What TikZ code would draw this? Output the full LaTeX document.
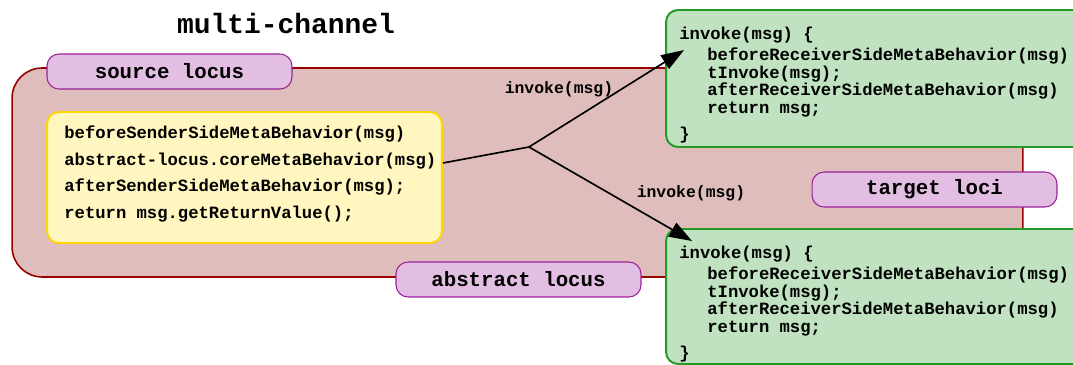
\documentclass[tikz,border=0pt]{standalone}
\usepackage{fontspec}
\setmonofont{Liberation Mono}
\definecolor{lcred}{RGB}{153,0,0}
\definecolor{lcredfill}{RGB}{224,189,189}
\definecolor{lctag}{RGB}{153,34,153}
\definecolor{lctagfill}{RGB}{226,190,226}
\definecolor{lcyellow}{RGB}{255,214,0}
\definecolor{lcyellowfill}{RGB}{255,246,192}
\definecolor{lcgreen}{RGB}{34,153,34}
\definecolor{lcgreenfill}{RGB}{192,226,192}
\usetikzlibrary{arrows.meta,positioning}

\begin{document}
\begin{tikzpicture}[x=0.02cm, y=-0.02cm,
  locusbox/.style={draw=lcred, line width=0.9pt, fill=lcredfill, rounded corners=0.6cm,
    minimum width=20.22cm, minimum height=4.18cm, inner sep=0pt},
  tagbox/.style={draw=lctag, line width=0.6pt, fill=lctagfill, rounded corners=0.24cm,
    minimum width=4.9cm, minimum height=0.7cm, inner sep=0pt,
    font=\fontsize{11.8}{12}\selectfont\ttfamily\bfseries},
  senderbox/.style={draw=lcyellow, line width=1.1pt, fill=lcyellowfill, rounded corners=0.24cm,
    minimum width=7.9cm, minimum height=2.62cm, inner sep=0pt},
  receiverbox/.style={draw=lcgreen, line width=1.1pt, fill=lcgreenfill, rounded corners=0.24cm,
    minimum width=8.38cm, inner sep=0pt},
  codetext/.style={inner sep=0pt, align=left, anchor=west},
  msglabel/.style={inner sep=0pt, font=\fontsize{9.35}{10}\selectfont\ttfamily\bfseries},
  flow/.style={line width=0.95pt, black}]

\useasboundingbox (0,0) rectangle (1073,365);
\clip (0,0) rectangle (1073,365);

% Title
\node[font=\fontsize{15.9}{16}\selectfont\ttfamily\bfseries] (title) at (286,24) {multi-channel};

% Abstract locus
\node[locusbox] (locus) at (517.5,172.5) {};
\node[tagbox] (sourcetag) at (169.5,71.5) {source locus};

% Sender side
\node[senderbox] (sender) at (244.5,177.5) {};
\node[codetext, font=\fontsize{9.8}{15.1}\selectfont\ttfamily\bfseries] (sendertext) at (64,174)
  {beforeSenderSideMetaBehavior(msg)\\
   abstract-locus.coreMetaBehavior(msg)\\
   afterSenderSideMetaBehavior(msg);\\
   return msg.getReturnValue();};

\node[tagbox] (abstracttag) at (518.5,279.5) {abstract locus};
\node[tagbox] (targettag) at (934.5,189.5) {target loci};

% Receiver side
\node[receiverbox, minimum height=2.74cm] (recvtop) at (875.5,78.5) {};
\node[codetext, font=\fontsize{9.8}{10}\selectfont\ttfamily\bfseries] (recvtoptext) at (679,85)
  {invoke(msg) \{\\[1.9pt]
   \hspace*{0.56cm}beforeReceiverSideMetaBehavior(msg)\\
   \hspace*{0.56cm}tInvoke(msg);\\
   \hspace*{0.56cm}afterReceiverSideMetaBehavior(msg)\\
   \hspace*{0.56cm}return msg;\\[4.7pt]
   \}};

\node[receiverbox, minimum height=2.7cm] (recvbottom) at (875.5,296.5) {};
\node[codetext, font=\fontsize{9.8}{10}\selectfont\ttfamily\bfseries] (recvbottomtext) at (679,304)
  {invoke(msg) \{\\[1.9pt]
   \hspace*{0.56cm}beforeReceiverSideMetaBehavior(msg)\\
   \hspace*{0.56cm}tInvoke(msg);\\
   \hspace*{0.56cm}afterReceiverSideMetaBehavior(msg)\\
   \hspace*{0.56cm}return msg;\\[4.7pt]
   \}};

% Arrows
\coordinate (fork) at (529,147);
\draw[flow] ([yshift=0.29cm]sender.east) -- (fork);
\draw[flow, -{Triangle[length=13pt, width=9pt]}] (fork) -- ([xshift=0.38cm, yshift=-0.82cm]recvtop.north west);
\draw[flow, -{Triangle[length=13pt, width=9pt]}] (fork) -- ([xshift=0.54cm, yshift=-0.26cm]recvbottom.north west);

\node[msglabel] (msgtop) at (559,89) {invoke(msg)};
\node[msglabel] (msgbottom) at (691,193) {invoke(msg)};

\end{tikzpicture}
\end{document}
